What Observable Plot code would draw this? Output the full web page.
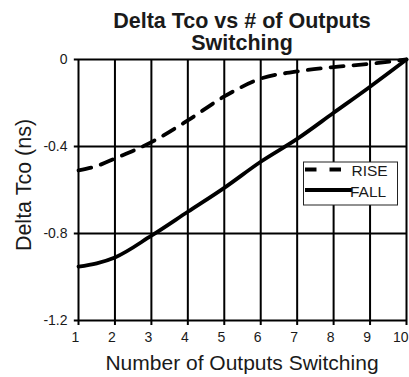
<!DOCTYPE html>
<html><head><meta charset="utf-8">
<script src="https://cdn.jsdelivr.net/npm/d3@7"></script>
<script src="https://cdn.jsdelivr.net/npm/@observablehq/plot@0.6"></script>
<style>
body{margin:0;background:#fff;}
#wrap{position:relative;width:409px;height:377px;overflow:hidden;}
</style></head><body><div id="wrap"></div>
<script>
// ---- data ----
const outputs = [1, 1.5, 2, 3, 4, 5, 6, 7, 8, 9, 10];
const riseValues = [-0.51, -0.49, -0.455, -0.38, -0.28, -0.17, -0.088, -0.055, -0.035, -0.02, 0];
const fallValues = [-0.952, -0.937, -0.91, -0.81, -0.70, -0.59, -0.47, -0.365, -0.245, -0.125, 0];
const xTicks = [1, 2, 3, 4, 5, 6, 7, 8, 9, 10];
const yTicks = [0, -0.4, -0.8, -1.2];
const yTickLabels = ["0", "-0.4", "-0.8", "-1.2"];
const seriesNames = ["RISE", "FALL"];
const titleLines = ["Delta Tco vs # of Outputs", "Switching"];
const xLabel = "Number of Outputs Switching";
const yLabel = "Delta Tco (ns)";

const font = "'Liberation Sans', Arial, Helvetica, sans-serif";
const rise = outputs.map((x, i) => ({x, y: riseValues[i], s: seriesNames[0]}));
const fall = outputs.map((x, i) => ({x, y: fallValues[i], s: seriesNames[1]}));
const lastTick = xTicks[xTicks.length - 1];

const plot = Plot.plot({
  width: 409, height: 377,
  marginLeft: 78, marginRight: 3, marginTop: 59, marginBottom: 57,
  style: {fontFamily: font, fontSize: "14px", color: "#1a1a1a", background: "transparent", overflow: "visible"},
  x: {domain: [1, 10]},
  y: {domain: [-1.2, 0]},
  marks: [
    Plot.ruleX(xTicks, {stroke: "#000", strokeWidth: 2}),
    Plot.ruleY(yTicks, {stroke: "#000", strokeWidth: 2, x1: 0.885, x2: 10}),
    Plot.axisX({ticks: xTicks, tickSize: 5, tickFormat: () => "", label: null, strokeWidth: 2, stroke: "#000"}),
    Plot.axisX({ticks: xTicks.slice(0, -1), tickSize: 0, tickPadding: 12, dx: -3, tickFormat: d => String(d), label: null, fontSize: 14}),
    Plot.axisX({ticks: [lastTick], tickSize: 0, tickPadding: 12, dx: 2, textAnchor: "end", tickFormat: d => String(d), label: null, fontSize: 14}),
    Plot.axisY({ticks: yTicks, tickSize: 0, tickPadding: 11, tickFormat: d => yTickLabels[yTicks.indexOf(d)], label: null, fontSize: 14}),
    Plot.line(rise, {x: "x", y: "y", stroke: "#000", strokeWidth: 3.8, strokeDasharray: "13,10", curve: "monotone-x"}),
    Plot.line(fall, {x: "x", y: "y", stroke: "#000", strokeWidth: 3.8, curve: "monotone-x"})
  ]
});

const svg = d3.select(plot);
// title
svg.append("text").attr("x", 242).attr("y", 27.5).attr("text-anchor", "middle")
  .attr("font-family", font).attr("font-size", 21.5).attr("font-weight", "bold").attr("fill", "#1a1a1a")
  .selectAll("tspan").data(titleLines).join("tspan")
  .attr("x", 242).attr("dy", (d, i) => i === 0 ? 0 : 22.5).text(d => d);
// axis labels
svg.append("text").attr("x", 242).attr("y", 370).attr("text-anchor", "middle")
  .attr("font-family", font).attr("font-size", 21).attr("fill", "#1a1a1a").text(xLabel);
svg.append("text").attr("transform", "translate(31,185) rotate(-90)").attr("text-anchor", "middle")
  .attr("font-family", font).attr("font-size", 21.5).attr("fill", "#1a1a1a").text(yLabel);
// legend
const lg = svg.append("g").attr("text-anchor", "start");
lg.append("rect").attr("x", 303.5).attr("y", 162).attr("width", 94).attr("height", 43)
  .attr("fill", "#ffffff").attr("stroke", "#222").attr("stroke-width", 1);
const rows = [
  {name: seriesNames[0], ly: 169.5, x2: 341, dash: "11.5,13", tx: 351.5, ty: 175.7},
  {name: seriesNames[1], ly: 190, x2: 352, dash: null, tx: 350, ty: 196.7}
];
rows.forEach(r => {
  lg.append("line").attr("x1", 305).attr("x2", r.x2).attr("y1", r.ly).attr("y2", r.ly)
    .attr("stroke", "#000").attr("stroke-width", 4).attr("stroke-dasharray", r.dash);
  lg.append("text").attr("x", r.tx).attr("y", r.ty).attr("text-anchor", "start")
    .attr("font-family", font).attr("font-size", 15.5)
    .attr("fill", "#1a1a1a").text(r.name);
});
document.getElementById("wrap").append(plot);
</script></body></html>
